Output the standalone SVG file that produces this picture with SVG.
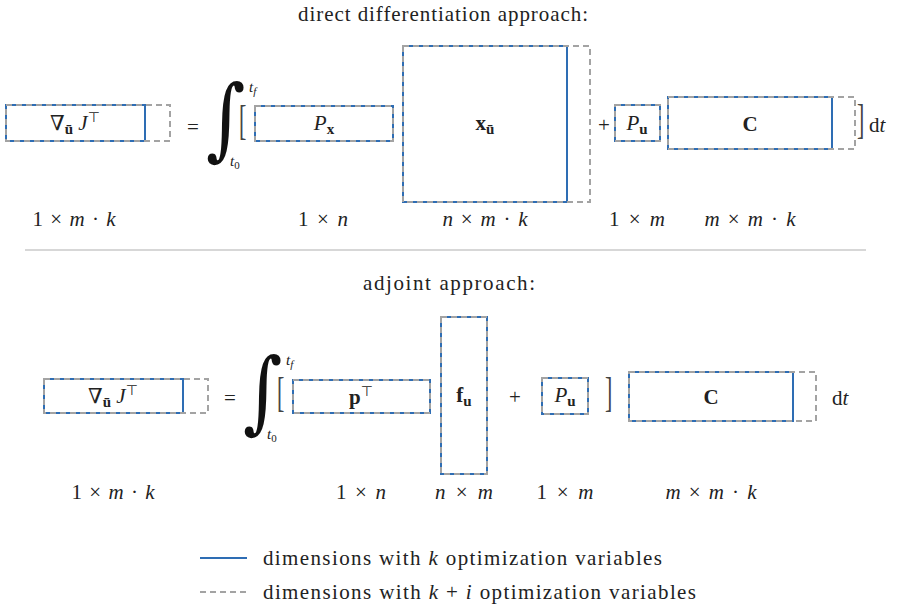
<svg xmlns="http://www.w3.org/2000/svg" width="899" height="608" viewBox="0 0 899 608">
<style>
.b{fill:none;stroke:#2e6db4;stroke-width:2}
.g{fill:none;stroke:#a3a3a3;stroke-width:2;stroke-dasharray:6 4}
.t{font-family:"Liberation Serif","DejaVu Serif",serif;font-size:21px;fill:#222}
.c{text-anchor:middle}
.bf{font-weight:bold}
.i{font-style:italic}
.sub{font-size:15px}
.sym{font-family:"DejaVu Sans",sans-serif;font-size:14px}
.lim{font-family:"Liberation Serif",serif;font-size:15px;font-style:italic;fill:#222}
.int{font-family:"DejaVu Serif",serif;font-size:72px;fill:#111}
.br{font-family:"Liberation Serif",serif;font-size:22px;fill:#444}
</style>
<rect width="899" height="608" fill="#fff"/>

<text class="t c" x="443" y="21" textLength="290" lengthAdjust="spacing">direct differentiation approach:</text>

<g id="top-gradJ">
<rect class="b" x="6" y="105" width="139" height="36"/>
<rect class="g" x="6" y="105" width="164" height="36"/>
<text class="t c" x="75" y="130">∇<tspan class="sub bf" dy="4">ū</tspan><tspan dy="-4"> </tspan><tspan class="i">J</tspan><tspan class="sym" dy="-8">⊤</tspan></text>
</g>
<text class="t c" x="193" y="134">=</text>
<g id="top-integral">
<g transform="translate(206,149) scale(1.05,1.25)"><text class="int" x="0" y="0">∫</text></g>
<text class="lim" x="249" y="92">t<tspan dy="3" style="font-size:11px">f</tspan></text>
<text class="lim" x="230" y="166">t<tspan dy="3" style="font-size:11px;font-style:normal">0</tspan></text>
</g>
<g transform="translate(239,133.5) scale(1,1.9)"><text class="br" x="0" y="0">[</text></g>
<g id="top-Px">
<rect class="b" x="255" y="106" width="138" height="35"/>
<rect class="g" x="255" y="106" width="138" height="35"/>
<text class="t c" x="324" y="130"><tspan class="i">P</tspan><tspan class="sub bf" dy="4">x</tspan></text>
</g>
<g id="top-xu">
<rect class="b" x="403" y="46" width="164" height="156"/>
<rect class="g" x="403" y="46" width="187" height="156"/>
<text class="t c bf" x="485" y="130">x<tspan class="sub" dy="4">ū</tspan></text>
</g>
<text class="t c" x="604" y="132">+</text>
<g id="top-Pu">
<rect class="b" x="615" y="105" width="45" height="36"/>
<rect class="g" x="615" y="105" width="45" height="36"/>
<text class="t c" x="637" y="130"><tspan class="i">P</tspan><tspan class="sub bf" dy="4">u</tspan></text>
</g>
<g id="top-C">
<rect class="b" x="668" y="97" width="164" height="52"/>
<rect class="g" x="668" y="97" width="187" height="52"/>
<text class="t c bf" x="750" y="131">C</text>
</g>
<g transform="translate(857,132.5) scale(1,1.9)"><text class="br" x="0" y="0">]</text></g>
<text class="t" x="869" y="132">d<tspan class="i">t</tspan></text>

<text class="t c" x="74" y="226" textLength="83" lengthAdjust="spacing">1 × <tspan class="i">m</tspan> · <tspan class="i">k</tspan></text>
<text class="t c" x="323" y="226" textLength="50" lengthAdjust="spacing">1 × <tspan class="i">n</tspan></text>
<text class="t c" x="485" y="226" textLength="85" lengthAdjust="spacing"><tspan class="i">n</tspan> × <tspan class="i">m</tspan> · <tspan class="i">k</tspan></text>
<text class="t c" x="637" y="226" textLength="56" lengthAdjust="spacing">1 × <tspan class="i">m</tspan></text>
<text class="t c" x="750" y="226" textLength="91" lengthAdjust="spacing"><tspan class="i">m</tspan> × <tspan class="i">m</tspan> · <tspan class="i">k</tspan></text>

<line x1="25" y1="250" x2="866" y2="250" stroke="#b0b0b0" stroke-width="1.2"/>

<text class="t c" x="449" y="290" textLength="172" lengthAdjust="spacing">adjoint approach:</text>

<g id="bot-gradJ">
<rect class="b" x="44" y="379" width="139" height="34"/>
<rect class="g" x="44" y="379" width="164" height="34"/>
<text class="t c" x="113" y="403">∇<tspan class="sub bf" dy="4">ū</tspan><tspan dy="-4"> </tspan><tspan class="i">J</tspan><tspan class="sym" dy="-8">⊤</tspan></text>
</g>
<text class="t c" x="230" y="405">=</text>
<g id="bot-integral">
<g transform="translate(243,422) scale(1.05,1.25)"><text class="int" x="0" y="0">∫</text></g>
<text class="lim" x="286" y="365">t<tspan dy="3" style="font-size:11px">f</tspan></text>
<text class="lim" x="267" y="439">t<tspan dy="3" style="font-size:11px;font-style:normal">0</tspan></text>
</g>
<g transform="translate(277,405.5) scale(1,1.9)"><text class="br" x="0" y="0">[</text></g>
<g id="bot-pT">
<rect class="b" x="293" y="380" width="137" height="33"/>
<rect class="g" x="293" y="380" width="137" height="33"/>
<text class="t c" x="361" y="404"><tspan class="bf">p</tspan><tspan class="sym" dy="-8">⊤</tspan></text>
</g>
<g id="bot-fu">
<rect class="b" x="441" y="317" width="46" height="157"/>
<rect class="g" x="441" y="317" width="46" height="157"/>
<text class="t c bf" x="464" y="402">f<tspan class="sub" dy="4">u</tspan></text>
</g>
<text class="t c" x="515" y="404">+</text>
<g id="bot-Pu">
<rect class="b" x="542" y="378" width="46" height="36"/>
<rect class="g" x="542" y="378" width="46" height="36"/>
<text class="t c" x="565" y="402"><tspan class="i">P</tspan><tspan class="sub bf" dy="4">u</tspan></text>
</g>
<g transform="translate(605,405.5) scale(1,1.9)"><text class="br" x="0" y="0">]</text></g>
<g id="bot-C">
<rect class="b" x="629" y="372" width="164" height="49"/>
<rect class="g" x="629" y="372" width="187" height="49"/>
<text class="t c bf" x="711" y="404">C</text>
</g>
<text class="t" x="832" y="405">d<tspan class="i">t</tspan></text>

<text class="t c" x="113" y="499" textLength="83" lengthAdjust="spacing">1 × <tspan class="i">m</tspan> · <tspan class="i">k</tspan></text>
<text class="t c" x="361" y="499" textLength="50" lengthAdjust="spacing">1 × <tspan class="i">n</tspan></text>
<text class="t c" x="464" y="499" textLength="58" lengthAdjust="spacing"><tspan class="i">n</tspan> × <tspan class="i">m</tspan></text>
<text class="t c" x="565" y="499" textLength="57" lengthAdjust="spacing">1 × <tspan class="i">m</tspan></text>
<text class="t c" x="711" y="499" textLength="91" lengthAdjust="spacing"><tspan class="i">m</tspan> × <tspan class="i">m</tspan> · <tspan class="i">k</tspan></text>

<g id="legend">
<line class="b" x1="200" y1="558" x2="247" y2="558"/>
<text class="t" x="263" y="565" textLength="399" lengthAdjust="spacing">dimensions with <tspan class="i">k</tspan> optimization variables</text>
<line class="g" x1="200" y1="592" x2="247" y2="592"/>
<text class="t" x="263" y="599" textLength="433" lengthAdjust="spacing">dimensions with <tspan class="i">k</tspan> + <tspan class="i">i</tspan> optimization variables</text>
</g>
</svg>
